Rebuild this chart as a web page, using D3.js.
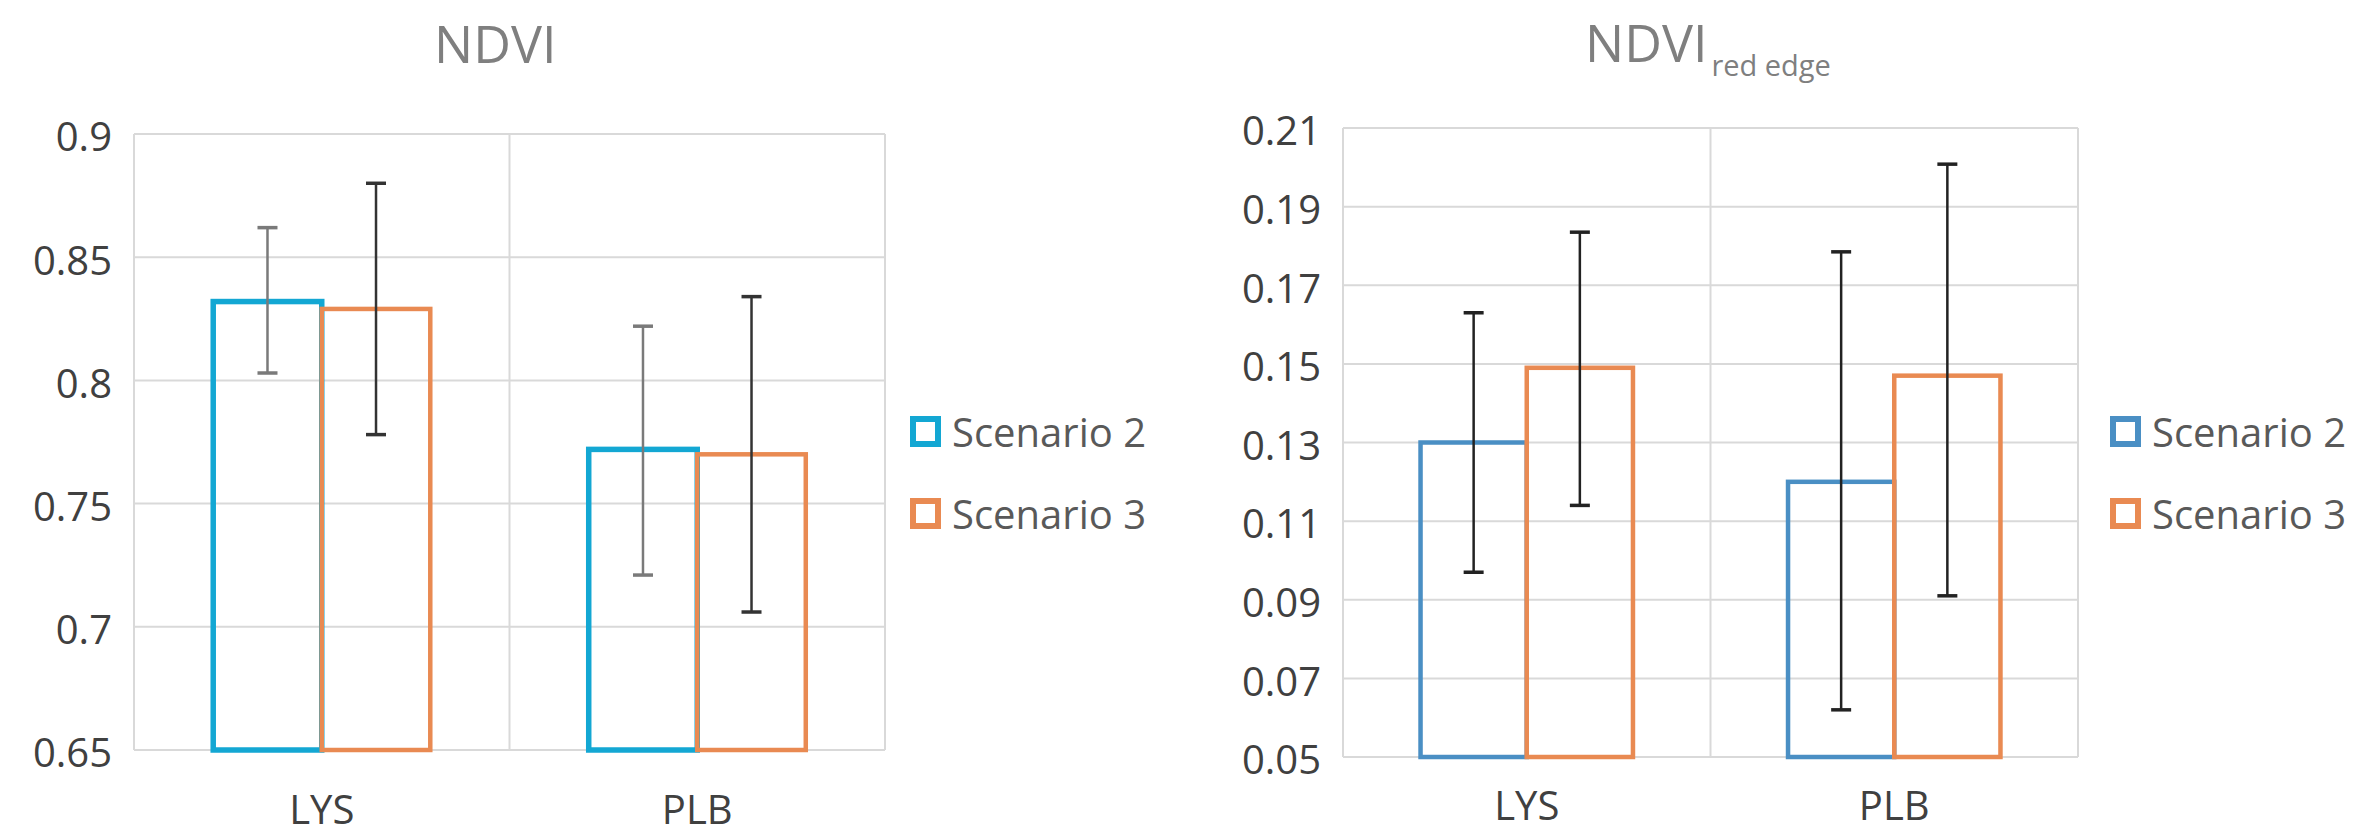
<!doctype html>
<html lang="en">
  <head>
    <meta charset="UTF-8" />
    <title>NDVI scenarios</title>
    <script src="https://d3js.org/d3.v7.min.js"></script>
    <style>
      html,
      body {
        margin: 0;
        padding: 0;
        background: #fff;
        overflow: hidden;
      }
      svg {
        display: block;
        font-family: "Open Sans", "Noto Sans", sans-serif;
      }
      .grid line {
        stroke: #d9d9d9;
        stroke-width: 2px;
      }
      .ylab text,
      .xlab text {
        fill: #404040;
        font-family: "Open Sans", "Noto Sans", sans-serif;
      }
      .title {
        fill: #7f7f7f;
      }
      .legend text {
        fill: #595959;
      }
    </style>
  </head>
  <body>
    <svg id="chart" width="2368" height="839"></svg>

    <script>
      // categories and series
      const categories = ["LYS", "PLB"];
      const seriesNames = ["Scenario 2", "Scenario 3"];

      // NDVI panel
      const ndviS2 = [0.832, 0.772];
      const ndviS3 = [0.829, 0.770];
      const ndviS2Low = [0.803, 0.721];
      const ndviS2High = [0.862, 0.822];
      const ndviS3Low = [0.778, 0.706];
      const ndviS3High = [0.880, 0.834];
      const ndviTicks = [0.65, 0.7, 0.75, 0.8, 0.85, 0.9];

      // NDVI red edge panel
      const reS2 = [0.130, 0.120];
      const reS3 = [0.149, 0.147];
      const reS2Low = [0.097, 0.062];
      const reS2High = [0.163, 0.1785];
      const reS3Low = [0.114, 0.091];
      const reS3High = [0.1835, 0.2008];
      const reTicks = [0.05, 0.07, 0.09, 0.11, 0.13, 0.15, 0.17, 0.19, 0.21];

      const svg = d3.select("#chart");

      function drawPanel(p) {
        const g = svg.append("g");

        const y = d3.scaleLinear().domain(d3.extent(p.ticks)).range([p.bottom, p.top]);
        const x = d3.scaleBand().domain(categories).range([p.left, p.right]);
        // two bars per group, centred, about 58% of the band
        const xs = d3.scaleBand().domain(seriesNames).range([0, x.bandwidth()]).paddingInner(0).paddingOuter(0.73);

        // horizontal gridlines
        g.append("g")
          .attr("class", "grid")
          .selectAll("line")
          .data(p.ticks)
          .enter()
          .append("line")
          .attr("x1", p.left)
          .attr("x2", p.right)
          .attr("y1", (d) => y(d))
          .attr("y2", (d) => y(d));

        // vertical dividers between categories
        const dividers = [p.left].concat(categories.map((c) => x(c) + x.bandwidth()));
        g.append("g")
          .attr("class", "grid")
          .selectAll("line")
          .data(dividers)
          .enter()
          .append("line")
          .attr("x1", (d) => d)
          .attr("x2", (d) => d)
          .attr("y1", p.top)
          .attr("y2", p.bottom);

        // y axis labels
        const yAxis = d3.axisLeft(y).tickValues(p.ticks).tickSize(0).tickPadding(0)
          .tickFormat((d) => String(+d.toFixed(2)));
        const ya = g.append("g").attr("class", "ylab").attr("transform", `translate(${p.left - 22},0)`).call(yAxis);
        ya.attr("font-family", null);
        ya.select(".domain").remove();
        ya.selectAll("text").style("font-size", "40px").attr("dy", "0.42em");

        // x axis labels (baseline placed directly)
        const xAxis = d3.axisBottom(x).tickSize(0).tickPadding(0);
        const xa = g.append("g").attr("class", "xlab").attr("transform", `translate(0,${p.xLabelY})`).call(xAxis);
        xa.attr("font-family", null);
        xa.select(".domain").remove();
        xa.selectAll("text").style("font-size", "40px").attr("dy", "0");

        // bars
        const series = [
          { name: seriesNames[0], vals: p.s2, lo: p.s2Low, hi: p.s2High, color: p.c2, err: p.e2, sw: p.sw2 },
          { name: seriesNames[1], vals: p.s3, lo: p.s3Low, hi: p.s3High, color: p.c3, err: p.e3, sw: p.sw3 },
        ];
        series.forEach((s) => {
          g.append("g")
            .selectAll("rect")
            .data(categories)
            .enter()
            .append("rect")
            .attr("x", (c) => x(c) + xs(s.name))
            .attr("y", (c, i) => y(s.vals[i]))
            .attr("width", xs.bandwidth())
            .attr("height", (c, i) => y(p.ticks[0]) - y(s.vals[i]))
            .attr("fill", "#fff")
            .attr("fill-opacity", 0)
            .attr("stroke", s.color)
            .attr("stroke-width", s.sw);
        });

        // error bars
        series.forEach((s) => {
          const eg = g.append("g").attr("stroke", s.err).attr("stroke-width", 2.5);
          categories.forEach((c, i) => {
            const cx = x(c) + xs(s.name) + xs.bandwidth() / 2;
            eg.append("line").attr("x1", cx).attr("x2", cx).attr("y1", y(s.lo[i])).attr("y2", y(s.hi[i]));
            [s.lo[i], s.hi[i]].forEach((v) => {
              eg.append("line").attr("x1", cx - 10).attr("x2", cx + 10).attr("y1", y(v)).attr("y2", y(v)).attr("stroke-width", 3.5);
            });
          });
        });

        // title
        const t = g.append("text").attr("class", "title").attr("x", p.titleX).attr("y", p.titleY).style("font-size", "52px");
        t.append("tspan").text("NDVI");
        if (p.sub) {
          t.append("tspan").attr("dx", 4).attr("dy", 14).style("font-size", "29px").text(p.sub);
        }

        // legend
        const lg = g.append("g").attr("class", "legend");
        series.forEach((s, i) => {
          const ly = p.legendY + i * 82;
          lg.append("rect")
            .attr("x", p.legendX + 3)
            .attr("y", ly + 3)
            .attr("width", 25)
            .attr("height", 25)
            .attr("fill", "#fff")
            .attr("stroke", s.color)
            .attr("stroke-width", 6);
          lg.append("text")
            .attr("x", p.legendX + 42)
            .attr("y", ly + 31)
            .style("font-size", "40px")
            .text(s.name);
        });
      }

      drawPanel({
        ticks: ndviTicks,
        left: 134, right: 885, top: 134, bottom: 750,
        s2: ndviS2, s3: ndviS3,
        s2Low: ndviS2Low, s2High: ndviS2High, s3Low: ndviS3Low, s3High: ndviS3High,
        c2: "#13a7d3", c3: "#e98a52", e2: "#7a7a7a", e3: "#333",
        sw2: 5.5, sw3: 4.5,
        titleX: 434, titleY: 63, sub: null,
        legendX: 910, legendY: 416,
        xLabelY: 824,
      });

      drawPanel({
        ticks: reTicks,
        left: 1343, right: 2078, top: 128, bottom: 757,
        s2: reS2, s3: reS3,
        s2Low: reS2Low, s2High: reS2High, s3Low: reS3Low, s3High: reS3High,
        c2: "#4a8fc4", c3: "#e98a52", e2: "#222", e3: "#222",
        sw2: 4.5, sw3: 4.5,
        titleX: 1585, titleY: 62, sub: "red edge",
        legendX: 2110, legendY: 416,
        xLabelY: 820,
      });
    </script>
  </body>
</html>
